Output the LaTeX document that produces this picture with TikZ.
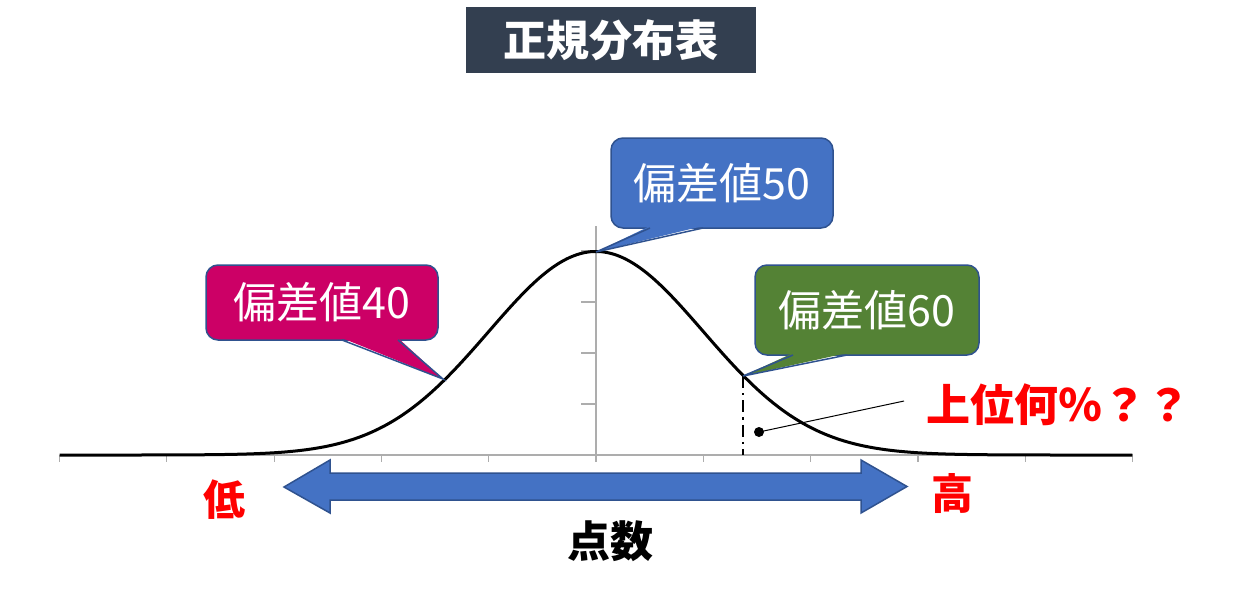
\documentclass[tikz,border=0pt]{standalone}
\usepackage{fontspec}
\newfontfamily\jp{Noto Sans CJK JP}
\definecolor{titlebg}{HTML}{333F50}
\definecolor{edge}{HTML}{2F528F}
\definecolor{pinkbox}{HTML}{CC0066}
\definecolor{bluebox}{HTML}{4472C4}
\definecolor{greenbox}{HTML}{548235}
\definecolor{axisgray}{HTML}{ADADAD}
\tikzset{
  bubble/.style={draw=edge, line width=0.75pt, rounded corners=6pt, text=white, inner sep=0pt,
    font=\jp\fontsize{21.5pt}{24pt}\selectfont},
  redword/.style={text=red, font=\jp\bfseries\fontsize{21pt}{24pt}\selectfont},
  axisline/.style={draw=axisgray, line width=0.6pt},
}
\begin{document}
\begin{tikzpicture}[x=0.5pt,y=-0.5pt]
  \useasboundingbox (0,0) rectangle (1240,600);
  \def\gauss{plot[domain=-5:5,samples=201,smooth] ({596+107.3*\x},{455-203.5*exp(-0.5*(\x)^2)})}
  % axes
  \draw[axisline] (60,455) -- (1133,455);
  \foreach \i in {-5,...,5} \draw[axisline] ({596+107.3*\i},455) -- ++(0,7);
  \draw[axisline] (596,226) -- (596,455);
  \foreach \j in {1,...,4} \draw[axisline] (596,{455-51*\j}) -- ++(-15,0);
  \draw[line width=1.5pt] \gauss;
  \coordinate (tip40) at (443,379);
  \coordinate (tip50) at (596,252);
  \coordinate (tip60) at (743,376);
  \draw[line width=1pt, dash pattern=on 6pt off 2.5pt on 1.2pt off 2.5pt] (tip60) -- (743,455);
  % title
  \node[fill=titlebg, minimum width=145pt, minimum height=33pt, inner sep=0pt, text=white,
    font=\jp\bfseries\fontsize{21.5pt}{24pt}\selectfont] (title) at (611,40) {正規分布表};
  % callouts
  \node[bubble, fill=pinkbox, minimum width=116pt, minimum height=37.5pt] (dev40) at (322,302.5) {偏差値40};
  \fill[pinkbox] (342,338) -- (tip40) -- (398,338) -- cycle;
  \draw[edge, line width=0.75pt] (342,340) -- (tip40) -- (398,340);
  \node[bubble, fill=bluebox, minimum width=111pt, minimum height=45pt] (dev50) at (722,183) {偏差値50};
  \fill[bluebox] (650,226) -- (tip50) -- (703,226) -- cycle;
  \draw[edge, line width=0.75pt] (650,228) -- (tip50) -- (703,228);
  \node[bubble, fill=greenbox, minimum width=112pt, minimum height=45pt] (dev60) at (867,310) {偏差値60};
  \fill[greenbox] (793,353) -- (tip60) -- (847,353) -- cycle;
  \draw[edge, line width=0.75pt] (793,355) -- (tip60) -- (847,355);
  % upper tail
  \fill (759,432) circle (5);
  \coordinate (lead) at (904,401);
  \draw[line width=0.5pt] (759,432) -- (lead);
  \node[redword, font=\jp\bfseries\fontsize{22pt}{24pt}\selectfont] (rank) at (1058,405) {上位何％？？};
  % score arrow
  \draw[fill=bluebox, draw=edge, line width=0.75pt] (284,487) -- (330,460) -- (330,473) -- (861,473)
    -- (861,460) -- (907,486.5) -- (861,513) -- (861,500) -- (330,500) -- (330,513) -- cycle;
  \node[redword] (low) at (224,500) {低};
  \node[redword] (high) at (952,494) {高};
  \node[font=\jp\bfseries\fontsize{21.5pt}{24pt}\selectfont] (score) at (610,541) {点数};
\end{tikzpicture}
\end{document}
